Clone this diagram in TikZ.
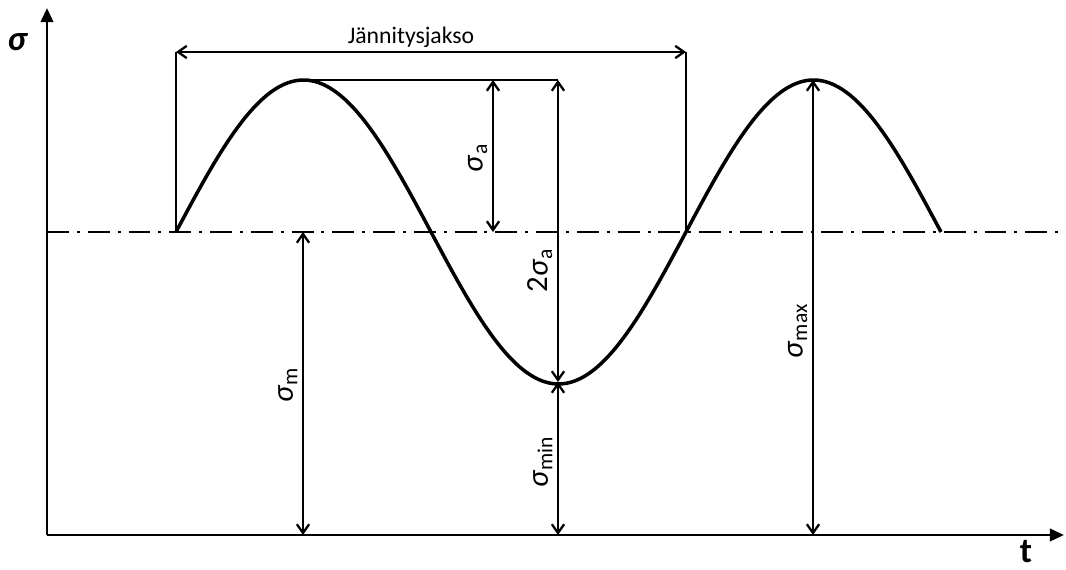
\documentclass[tikz,border=0pt]{standalone}
\usepackage{fontspec}
\setmainfont{Carlito}
\usetikzlibrary{arrows.meta, calc}
\newcommand{\sig}{\textit{σ}}

\begin{document}
\begin{tikzpicture}[x=0.02cm, y=-0.02cm, font=\fontsize{13.5}{15}\selectfont,
    axisLine/.style={line width=1.6pt, -{Triangle[length=8pt, width=7pt]}},
    dimArrow/.style={line width=1.3pt, {Straight Barb[length=5pt, width=7pt]}-{Straight Barb[length=5pt, width=7pt]}},
    helpLine/.style={line width=1.3pt},
    midLine/.style={line width=1.2pt, dash pattern=on 12.5pt off 4.5pt on 1.7pt off 4.5pt},
    wave/.style={line width=2pt, line join=round},
    vLabel/.style={rotate=90, anchor=south, inner sep=3pt, font=\fontsize{17.5}{19}\selectfont}]
    \useasboundingbox (0,0) rectangle (1066,570);

    % points on the axes and on the curve
    \coordinate (o) at (47,535);
    \coordinate (yTop) at (47,8);
    \coordinate (xEnd) at (1064,535);
    \coordinate (start) at (176,232);
    \coordinate (cross) at (686,232);
    \coordinate (peakA) at (303,80);
    \coordinate (trough) at (558,382);
    \coordinate (peakB) at (813,80);

    % mean line
    \draw[midLine] (47,232) coordinate (mL) -- (1064,232) coordinate (mR);

    % axes
    \draw[axisLine] (o) -- (yTop);
    \draw[axisLine] (o) -- (xEnd);
    \node[font=\fontsize{20}{21}\selectfont\bfseries] (sigAxis) at (18,42) {\sig};
    \node[font=\fontsize{20}{21}\selectfont\bfseries] (tAxis) at (1026,552) {t};

    % stress curve
    \draw[wave] plot[domain=0:540, samples=120, smooth] ({176+\x/360*510}, {232-152*sin(\x)});

    % stress cycle
    \coordinate (jL) at (176,52);
    \coordinate (jR) at (686,52);
    \draw[helpLine] (start) -- (jL);
    \draw[helpLine] (cross) -- (jR);
    \draw[dimArrow] (jL) -- node[above, inner sep=2pt, xshift=-0.4cm] (cycle) {Jännitysjakso} (jR);

    % amplitude
    \coordinate (topR) at (558,80);
    \draw[helpLine] (peakA) -- (topR);
    \coordinate (aTop) at (493,80);
    \coordinate (aBot) at (493,232);
    \draw[dimArrow] (aTop) -- (aBot);
    \node[vLabel] (sigA) at (493,158) {\sig\textsubscript{a}};

    \draw[dimArrow] (topR) -- (trough);
    \node[vLabel] (sigAA) at (558,270) {2\sig\textsubscript{a}};

    % mean, min and max
    \coordinate (mBot) at (303,535);
    \coordinate (mTop) at (303,232);
    \draw[dimArrow] (mTop) -- (mBot);
    \node[vLabel] (sigM) at (303,385) {\sig\textsubscript{m}};

    \coordinate (minBot) at (558,535);
    \draw[dimArrow] (trough) -- (minBot);
    \node[vLabel] (sigMin) at (558,462) {\sig\textsubscript{min}};

    \coordinate (maxBot) at (813,535);
    \draw[dimArrow] (peakB) -- (maxBot);
    \node[vLabel] (sigMax) at (813,331) {\sig\textsubscript{max}};
\end{tikzpicture}
\end{document}
